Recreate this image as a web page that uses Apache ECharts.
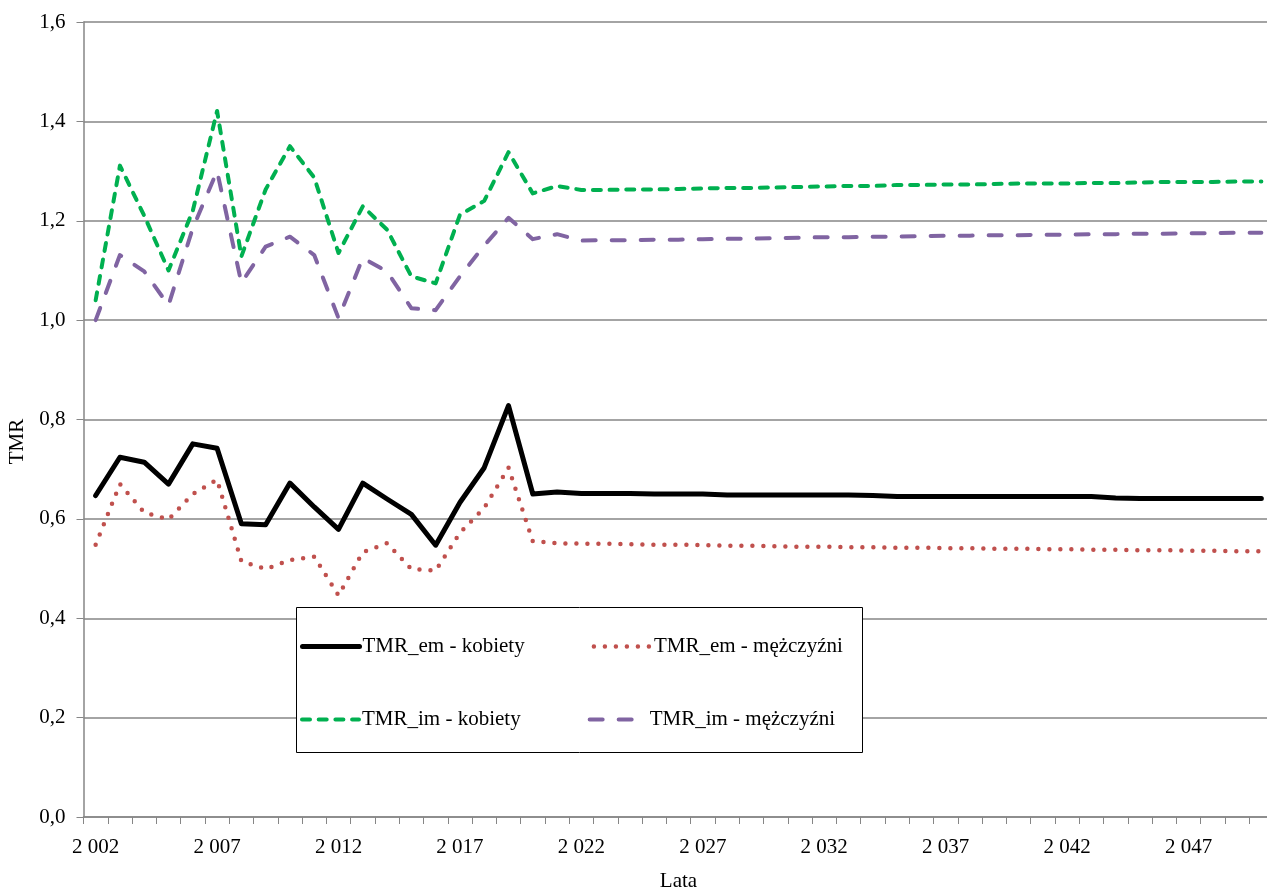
<!DOCTYPE html>
<html>
<head>
<meta charset="utf-8">
<script src="https://cdn.jsdelivr.net/npm/echarts@6/dist/echarts.min.js"></script>
<style>
  html, body { margin: 0; padding: 0; background: #fff; }
  #chart { width: 1267px; height: 888px; }
</style>
</head>
<body>
<div id="chart"></div>
<script>
const years = [];
for (let y = 2002; y <= 2050; y++) years.push(y);

const seriesNames = ["TMR_em - kobiety", "TMR_em - mężczyźni", "TMR_im - kobiety", "TMR_im - mężczyźni"];

const emKobiety = [0.647, 0.724, 0.714, 0.670, 0.751, 0.742, 0.590, 0.588, 0.672, 0.624,
  0.579, 0.672, 0.640, 0.609, 0.547, 0.633, 0.703, 0.828, 0.650, 0.654,
  0.651, 0.651, 0.651, 0.650, 0.650, 0.650, 0.648, 0.648, 0.648, 0.648,
  0.648, 0.648, 0.647, 0.645, 0.645, 0.645, 0.645, 0.645, 0.645, 0.645,
  0.645, 0.645, 0.642, 0.641, 0.641, 0.641, 0.641, 0.641, 0.641];

const emMezczyzni = [0.548, 0.670, 0.613, 0.599, 0.650, 0.679, 0.515, 0.499, 0.517, 0.524,
  0.446, 0.533, 0.551, 0.499, 0.496, 0.572, 0.622, 0.703, 0.555, 0.551,
  0.550, 0.550, 0.549, 0.548, 0.548, 0.547, 0.546, 0.546, 0.545, 0.544,
  0.544, 0.543, 0.543, 0.542, 0.542, 0.541, 0.541, 0.540, 0.540, 0.539,
  0.539, 0.538, 0.538, 0.537, 0.537, 0.536, 0.536, 0.535, 0.535];

const imKobiety = [1.040, 1.311, 1.210, 1.100, 1.220, 1.421, 1.128, 1.263, 1.350, 1.287,
  1.135, 1.229, 1.182, 1.088, 1.074, 1.212, 1.240, 1.338, 1.255, 1.270,
  1.262, 1.262, 1.263, 1.263, 1.264, 1.265, 1.266, 1.266, 1.267, 1.268,
  1.269, 1.270, 1.270, 1.272, 1.272, 1.273, 1.273, 1.274, 1.275, 1.275,
  1.275, 1.276, 1.276, 1.277, 1.278, 1.278, 1.278, 1.279, 1.279];

const imMezczyzni = [1.000, 1.131, 1.098, 1.030, 1.185, 1.300, 1.075, 1.148, 1.168, 1.131,
  1.004, 1.125, 1.098, 1.024, 1.020, 1.088, 1.150, 1.206, 1.163, 1.173,
  1.160, 1.161, 1.161, 1.162, 1.162, 1.163, 1.164, 1.164, 1.165, 1.166,
  1.167, 1.167, 1.168, 1.168, 1.169, 1.170, 1.170, 1.171, 1.171, 1.172,
  1.172, 1.173, 1.173, 1.174, 1.174, 1.175, 1.175, 1.176, 1.176];

const yTicks = [0, 0.2, 0.4, 0.6, 0.8, 1.0, 1.2, 1.4, 1.6];

const font = "'Liberation Serif', 'DejaVu Serif', serif";
const axisGray = "#868686";

const chart = echarts.init(document.getElementById("chart"));

function lineSeries(name, data, color, width, dash) {
  return {
    name: name,
    type: "line",
    data: data,
    symbol: "none",
    animation: false,
    lineStyle: { color: color, width: width, type: dash, cap: "round", join: "round" },
    itemStyle: { color: color }
  };
}

// one legend per row so both columns line up like in the original
function legendRow(names, top) {
  return {
    data: names,
    left: 300,
    top: top,
    orient: "horizontal",
    itemWidth: 57,
    itemHeight: 14,
    itemGap: 67,
    padding: 0,
    z: 5,
    itemStyle: { opacity: 0 },
    lineStyle: { width: "inherit", type: "inherit", cap: "inherit", color: "inherit" },
    textStyle: { fontFamily: font, fontSize: 21, color: "#000", padding: [0, 0, 0, -2] }
  };
}

const option = {
  backgroundColor: "#fff",
  animation: false,
  textStyle: { fontFamily: font, color: "#000" },
  grid: { left: 83.5, top: 22, bottom: 71, width: 1190, outerBoundsMode: "none", containLabel: false },
  graphic: [{
    type: "rect",
    left: 296,
    top: 607,
    z: 3,
    shape: { width: 566, height: 145 },
    style: { fill: "#fff", stroke: "#000", lineWidth: 1 }
  }],
  legend: [
    legendRow([seriesNames[0], seriesNames[1]], 636),
    legendRow([seriesNames[2], seriesNames[3]], 709)
  ],
  xAxis: {
    type: "category",
    data: years,
    boundaryGap: true,
    name: "Lata",
    nameLocation: "middle",
    nameGap: 54,
    nameTextStyle: { fontFamily: font, fontSize: 21, color: "#000" },
    axisLine: { lineStyle: { color: axisGray, width: 1.5 } },
    axisTick: { show: true, interval: 0, length: 7, lineStyle: { color: axisGray } },
    axisLabel: {
      interval: 4,
      margin: 20,
      fontFamily: font,
      fontSize: 21,
      color: "#000",
      formatter: function (v) {
        const s = String(v);
        return s.slice(0, 1) + " " + s.slice(1);
      }
    },
    splitLine: { show: false }
  },
  yAxis: {
    type: "value",
    min: 0,
    max: 1.6,
    interval: 0.2,
    name: "TMR",
    nameLocation: "middle",
    nameGap: 47,
    nameRotate: 90,
    nameTextStyle: { fontFamily: font, fontSize: 21, color: "#000", padding: [0, 44, 0, 0] },
    axisLine: { show: true, lineStyle: { color: axisGray, width: 1.5 } },
    axisTick: { show: true, length: 7, lineStyle: { color: axisGray } },
    axisLabel: {
      margin: 18,
      fontFamily: font,
      fontSize: 21,
      color: "#000",
      formatter: function (v) {
        const t = yTicks.find(function (k) { return Math.abs(k - v) < 1e-9; });
        return (t !== undefined ? t : v).toFixed(1).replace(".", ",");
      }
    },
    splitLine: { show: true, lineStyle: { color: axisGray, width: 1.5 } }
  },
  series: [
    lineSeries(seriesNames[0], emKobiety, "#000000", 5, "solid"),
    lineSeries(seriesNames[1], emMezczyzni, "#C0504D", 4.5, [0, 11]),
    lineSeries(seriesNames[2], imKobiety, "#00B050", 4, [8, 8.7]),
    lineSeries(seriesNames[3], imMezczyzni, "#8064A2", 4, [13, 16])
  ]
};

chart.setOption(option);
window.addEventListener("resize", function () {
  chart.resize();
});
</script>
</body>
</html>
